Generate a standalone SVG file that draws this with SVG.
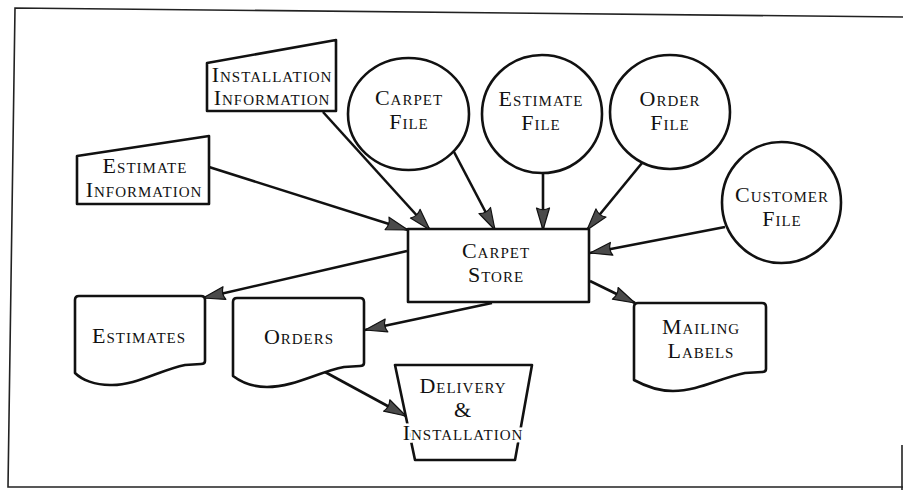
<svg xmlns="http://www.w3.org/2000/svg" width="903" height="490" viewBox="0 0 903 490">
<defs>
<style>
.shape{fill:#fff;stroke:#111;stroke-width:2.6;stroke-linejoin:round}
.t{font-family:"Liberation Serif","Times New Roman",serif;font-size:22px;font-variant:small-caps;letter-spacing:1px;text-anchor:middle;fill:#111}
.halo{stroke:#fff;stroke-width:5px;paint-order:stroke}
.c{fill:none;stroke:#111;stroke-width:2.6;stroke-linecap:butt;marker-end:url(#ah)}
.frame{fill:none;stroke:#222;stroke-width:1.6}
</style>
<marker id="ah" viewBox="0 0 24 16" refX="23" refY="8" markerWidth="24" markerHeight="16" markerUnits="userSpaceOnUse" orient="auto">
<path d="M1,1.5 L23,8 L1,14.5 Q4.5,8 1,1.5 Z" fill="#4a4a4a" stroke="#111" stroke-width="1.2" stroke-linejoin="round"/>
</marker>
</defs>
<rect width="903" height="490" fill="#fff"/>
<path class="frame" d="M903,17 L15,8 L8,487 L903,487"/>
<path class="frame" d="M902,445 L902,490"/>

<g id="connectors">
<line class="c" x1="209" y1="167" x2="408" y2="230"/>
<line class="c" x1="323" y1="112" x2="430" y2="230"/>
<line class="c" x1="453" y1="150" x2="495" y2="230"/>
<line class="c" x1="543" y1="173" x2="543" y2="230"/>
<line class="c" x1="642" y1="163" x2="587" y2="230"/>
<line class="c" x1="725" y1="227" x2="590" y2="253"/>
<line class="c" x1="407" y1="251" x2="203" y2="298"/>
<line class="c" x1="492" y1="303" x2="365" y2="330"/>
<line class="c" x1="590" y1="281" x2="635" y2="303"/>
<line class="c" x1="325" y1="372" x2="406" y2="416"/>
</g>

<g id="installation-information">
<path class="shape" d="M207,63 L336,40 L336,111 L207,111 Z"/>
<text class="t" x="272" y="82">Installation</text>
<text class="t" x="272" y="105">Information</text>
</g>

<g id="estimate-information">
<path class="shape" d="M77,156 L209,136 L209,204 L77,204 Z"/>
<text class="t" x="145" y="173">Estimate</text>
<text class="t" x="144" y="197">Information</text>
</g>

<g id="carpet-file">
<ellipse class="shape" cx="408.5" cy="114" rx="60.5" ry="56"/>
<text class="t" x="409" y="105">Carpet</text>
<text class="t" x="409" y="129">File</text>
</g>

<g id="estimate-file">
<ellipse class="shape" cx="542" cy="114" rx="60" ry="59"/>
<text class="t" x="541" y="106">Estimate</text>
<text class="t" x="541" y="130">File</text>
</g>

<g id="order-file">
<ellipse class="shape" cx="670" cy="112" rx="60" ry="57"/>
<text class="t" x="670" y="106">Order</text>
<text class="t" x="670" y="130">File</text>
</g>

<g id="customer-file">
<ellipse class="shape" cx="781.5" cy="202.5" rx="59.5" ry="60.5"/>
<text class="t" x="782" y="202">Customer</text>
<text class="t" x="782" y="226">File</text>
</g>

<g id="carpet-store">
<rect class="shape" x="408" y="229" width="181" height="73"/>
<text class="t" x="496" y="258">Carpet</text>
<text class="t" x="496" y="282">Store</text>
</g>

<g id="estimates">
<path class="shape" d="M79,296 L201,296 Q205,296 205,300 L205,361 Q205,364 201,364 L185,365 C160,370 135,386 110,385 C95,385 82,380 75,373 L75,300 Q75,296 79,296 Z"/>
<text class="t" x="139" y="343">Estimates</text>
</g>

<g id="orders">
<path class="shape" d="M237,298 L360,298 Q364,298 364,302 L364,363 Q364,366 360,366 L344,367 C318,372 294,387 267,387 C253,387 241,382 233,376 L233,302 Q233,298 237,298 Z"/>
<text class="t" x="299" y="344">Orders</text>
</g>

<g id="mailing-labels">
<path class="shape" d="M638,303 L762,303 Q766,303 766,307 L766,369 Q766,372 762,372 L745,373 C720,378 698,391 673,391 C658,391 645,386 634,380 L634,307 Q634,303 638,303 Z"/>
<text class="t" x="701" y="334">Mailing</text>
<text class="t" x="701" y="358">Labels</text>
</g>

<g id="delivery-installation">
<path class="shape" d="M395,365 L532,365 L515,460 L415,460 Z"/>
<text class="t" x="463" y="393">Delivery</text>
<text class="t" x="463" y="417">&amp;</text>
<text class="t halo" x="463" y="440">Installation</text>
</g>
</svg>
